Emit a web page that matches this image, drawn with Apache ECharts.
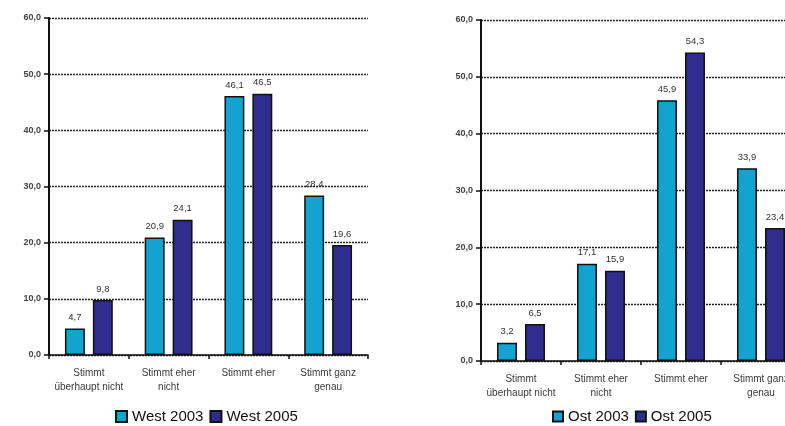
<!DOCTYPE html>
<html>
<head>
<meta charset="utf-8">
<script src="https://cdn.jsdelivr.net/npm/echarts@6/dist/echarts.min.js"></script>
<style>
  html, body { margin: 0; padding: 0; background: #fff; overflow: hidden; }
  #frame { width: 785px; height: 426px; overflow: hidden; }
  #chart { width: 820px; height: 426px; }
</style>
</head>
<body>
<div id="frame"><div id="chart"></div></div>
<script>
// Antwortkategorien
const categories = ['Stimmt\nüberhaupt nicht', 'Stimmt eher\nnicht', 'Stimmt eher', 'Stimmt ganz\ngenau'];

// Anteile in Prozent
const west2003 = [4.7, 20.9, 46.1, 28.4];
const west2005 = [9.8, 24.1, 46.5, 19.6];
const ost2003 = [3.2, 17.1, 45.9, 33.9];
const ost2005 = [6.5, 15.9, 54.3, 23.4];

const yMin = 0, yMax = 60, yStep = 10;

const CYAN = '#12a3d1';
const NAVY = '#2f2d8d';
const FONT = '"Liberation Sans", Arial, sans-serif';

const comma = v => Number(v).toFixed(1).replace('.', ',');

function xAxisFor(gridIndex) {
  return {
    type: 'category', gridIndex, data: categories,
    axisLine: { lineStyle: { color: '#111', width: 1.5 } },
    axisTick: { show: true, length: 4, lineStyle: { color: '#111', width: 1.5 } },
    axisLabel: {
      interval: 0, margin: 11, fontFamily: FONT, fontSize: 10,
      color: '#3a3a3a', lineHeight: 14
    }
  };
}

function yAxisFor(gridIndex) {
  return {
    type: 'value', gridIndex, min: yMin, max: yMax, interval: yStep,
    axisLine: { show: true, lineStyle: { color: '#111', width: 2 } },
    axisTick: { show: true, length: 5, lineStyle: { color: '#111', width: 1.5 } },
    axisLabel: {
      margin: 8, fontFamily: FONT, fontSize: 9, fontWeight: 'bold',
      color: '#444', formatter: v => comma(v)
    },
    splitLine: {
      show: true,
      lineStyle: { color: '#222', width: 1.3, type: [2, 1] }
    }
  };
}

function barSeries(name, data, color, idx) {
  return {
    name, type: 'bar', data,
    xAxisIndex: idx, yAxisIndex: idx,
    barGap: '40%', barCategoryGap: '40%',
    itemStyle: { color, borderColor: '#111', borderWidth: 1.5 },
    label: {
      show: true, position: 'top', distance: 6,
      fontFamily: FONT, fontSize: 9.5, color: '#333',
      formatter: p => comma(p.value)
    }
  };
}

const legendText = { fontFamily: FONT, fontSize: 15, color: '#111' };

const option = {
  animation: false,
  backgroundColor: '#fff',
  grid: [
    { left: 49, right: 452, top: 18, bottom: 71 },
    { left: 481, right: 19, top: 20, bottom: 65 }
  ],
  xAxis: [xAxisFor(0), xAxisFor(1)],
  yAxis: [yAxisFor(0), yAxisFor(1)],
  legend: [
    {
      data: ['West 2003', 'West 2005'], left: 115, top: 409,
      icon: 'rect', itemWidth: 11, itemHeight: 11, itemGap: 6,
      textStyle: legendText, padding: 0
    },
    {
      data: ['Ost 2003', 'Ost 2005'], left: 552, top: 409,
      icon: 'rect', itemWidth: 10, itemHeight: 10, itemGap: 6,
      textStyle: legendText, padding: 0
    }
  ],
  series: [
    barSeries('West 2003', west2003, CYAN, 0),
    barSeries('West 2005', west2005, NAVY, 0),
    barSeries('Ost 2003', ost2003, CYAN, 1),
    barSeries('Ost 2005', ost2005, NAVY, 1)
  ]
};

const chart = echarts.init(document.getElementById('chart'), null, { renderer: 'canvas' });
chart.setOption(option);
</script>
</body>
</html>
